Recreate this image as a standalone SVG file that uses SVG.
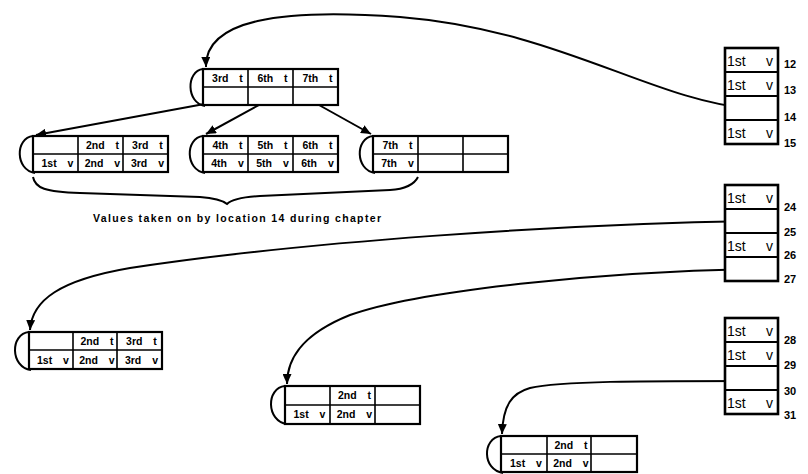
<svg xmlns="http://www.w3.org/2000/svg" width="808" height="474" viewBox="0 0 808 474">
<style>
.box{fill:#fff;stroke:#000;stroke-width:2.2}
.ln{stroke:#000;stroke-width:1.6;fill:none}
.loop{fill:none;stroke:#000;stroke-width:2}
.t{font-family:"Liberation Sans",Arial,sans-serif;font-weight:bold;font-size:10.5px;text-anchor:middle;word-spacing:8px;fill:#000}
.mem{fill:#fff;stroke:#000;stroke-width:2.6}
.mln{stroke:#000;stroke-width:2;fill:none}
.mt{font-family:"Liberation Sans",Arial,sans-serif;font-size:14px;fill:#000}
.lab{font-family:"Liberation Sans",Arial,sans-serif;font-weight:bold;font-size:11px;fill:#000}
.conn{fill:none;stroke:#000;stroke-width:2}
.cap{font-family:"Liberation Sans",Arial,sans-serif;font-weight:bold;font-size:10.5px;fill:#000}
</style>
<defs>
<marker id="ah" markerUnits="userSpaceOnUse" markerWidth="10" markerHeight="9" refX="10" refY="4.5" orient="auto">
<path d="M0,0 L10,4.5 L0,9 z" fill="#000"/>
</marker>
</defs>

<g id="connectors">
<path class="conn" d="M752,109 C650,100 560,30 400,17 C280,8 205,20 206,67" marker-end="url(#ah)"/>
<path class="conn" d="M226,100 L36,135" marker-end="url(#ah)"/>
<path class="conn" d="M268,100 L206,134" marker-end="url(#ah)"/>
<path class="conn" d="M310,100 L371,134" marker-end="url(#ah)"/>
<path class="conn" d="M753,221 C560,224 300,242 130,268 C60,280 32,300 30,330" marker-end="url(#ah)"/>
<path class="conn" d="M753,269 C600,272 420,290 350,315 C300,335 287,360 287,384" marker-end="url(#ah)"/>
<path class="conn" d="M753,381 C640,381 560,381 530,388 C512,393 503,405 502,434" marker-end="url(#ah)"/>
</g>

<g id="node-top">
<path class="loop" d="M203,69 C186,71 186,103 205,106"/>
<rect class="box" x="203" y="69" width="135" height="36"/>
<path class="ln" d="M248,69 V105 M293,69 V105 M203,87 H338"/>
<text class="t" x="227.5" y="82">3rd t</text><text class="t" x="272.5" y="82">6th t</text><text class="t" x="317.5" y="82">7th t</text>
</g>

<g id="node-child1">
<path class="loop" d="M33,136 C15,138 15,170 35,173"/>
<rect class="box" x="33" y="136" width="135" height="36"/>
<path class="ln" d="M78,136 V172 M123,136 V172 M33,154 H168"/>
<text class="t" x="102.5" y="149">2nd t</text><text class="t" x="147.5" y="149">3rd t</text>
<text class="t" x="57.5" y="167">1st v</text><text class="t" x="102.5" y="167">2nd v</text><text class="t" x="147.5" y="167">3rd v</text>
</g>

<g id="node-child2">
<path class="loop" d="M203,136 C185,138 185,170 205,173"/>
<rect class="box" x="203" y="136" width="135" height="36"/>
<path class="ln" d="M248,136 V172 M293,136 V172 M203,154 H338"/>
<text class="t" x="227.5" y="149">4th t</text><text class="t" x="272.5" y="149">5th t</text><text class="t" x="317.5" y="149">6th t</text>
<text class="t" x="227.5" y="167">4th v</text><text class="t" x="272.5" y="167">5th v</text><text class="t" x="317.5" y="167">6th v</text>
</g>

<g id="node-child3">
<path class="loop" d="M373,136 C355,138 355,170 375,173"/>
<rect class="box" x="373" y="136" width="135" height="36"/>
<path class="ln" d="M418,136 V172 M463,136 V172 M373,154 H508"/>
<text class="t" x="397.5" y="149">7th t</text>
<text class="t" x="397.5" y="167">7th v</text>
</g>

<g id="brace">
<path class="conn" d="M33,177 C35,188 45,192 80,193 L200,197 C214,198 222,200 227,204 C232,199 242,197 260,196 L390,190 C405,189 414,185 418,177"/>
<text class="cap" x="93" y="222" textLength="288" lengthAdjust="spacing">Values taken on by location 14 during chapter</text>
</g>

<g id="node-bl">
<path class="loop" d="M29,332 C10,334 10,367 31,370"/>
<rect class="box" x="29" y="332" width="133" height="37"/>
<path class="ln" d="M73,332 V369 M117,332 V369 M29,350 H162"/>
<text class="t" x="97" y="345">2nd t</text><text class="t" x="141.5" y="345">3rd t</text>
<text class="t" x="53" y="364">1st v</text><text class="t" x="97" y="364">2nd v</text><text class="t" x="141.5" y="364">3rd v</text>
</g>

<g id="node-mid">
<path class="loop" d="M285,386 C266,388 266,421 287,424"/>
<rect class="box" x="285" y="386" width="135" height="38"/>
<path class="ln" d="M330,386 V424 M375,386 V424 M285,405 H420"/>
<text class="t" x="354.5" y="399">2nd t</text>
<text class="t" x="309.5" y="418">1st v</text><text class="t" x="354.5" y="418">2nd v</text>
</g>

<g id="node-br">
<path class="loop" d="M501,436 C482,438 482,470 503,473"/>
<rect class="box" x="501" y="436" width="136" height="36"/>
<path class="ln" d="M547,436 V472 M591,436 V472 M501,454 H637"/>
<text class="t" x="571" y="449">2nd t</text>
<text class="t" x="526" y="467">1st v</text><text class="t" x="571" y="467">2nd v</text>
</g>

<g id="mem-12-15">
<rect class="mem" x="725" y="48" width="53" height="96"/>
<path class="mln" d="M725,72 H778 M725,96 H778 M725,120 H778"/>
<text class="mt"><tspan x="727" y="66">1st </tspan><tspan x="766" y="66">v</tspan></text>
<text class="mt"><tspan x="727" y="90">1st </tspan><tspan x="766" y="90">v</tspan></text>
<text class="mt"><tspan x="727" y="138">1st </tspan><tspan x="766" y="138">v</tspan></text>
<text class="lab" x="784" y="68">12</text><text class="lab" x="784" y="94">13</text><text class="lab" x="784" y="121">14</text><text class="lab" x="784" y="147">15</text>
</g>

<g id="mem-24-27">
<rect class="mem" x="725" y="185" width="53" height="96"/>
<path class="mln" d="M725,209 H778 M725,233 H778 M725,257 H778"/>
<text class="mt"><tspan x="727" y="203">1st </tspan><tspan x="766" y="203">v</tspan></text>
<text class="mt"><tspan x="727" y="251">1st </tspan><tspan x="766" y="251">v</tspan></text>
<text class="lab" x="784" y="211">24</text><text class="lab" x="784" y="236">25</text><text class="lab" x="784" y="259">26</text><text class="lab" x="784" y="283">27</text>
</g>

<g id="mem-28-31">
<rect class="mem" x="725" y="318" width="53" height="96"/>
<path class="mln" d="M725,342 H778 M725,366 H778 M725,390 H778"/>
<text class="mt"><tspan x="727" y="336">1st </tspan><tspan x="766" y="336">v</tspan></text>
<text class="mt"><tspan x="727" y="360">1st </tspan><tspan x="766" y="360">v</tspan></text>
<text class="mt"><tspan x="727" y="408">1st </tspan><tspan x="766" y="408">v</tspan></text>
<text class="lab" x="784" y="344">28</text><text class="lab" x="784" y="369">29</text><text class="lab" x="784" y="395">30</text><text class="lab" x="784" y="419">31</text>
</g>
</svg>
